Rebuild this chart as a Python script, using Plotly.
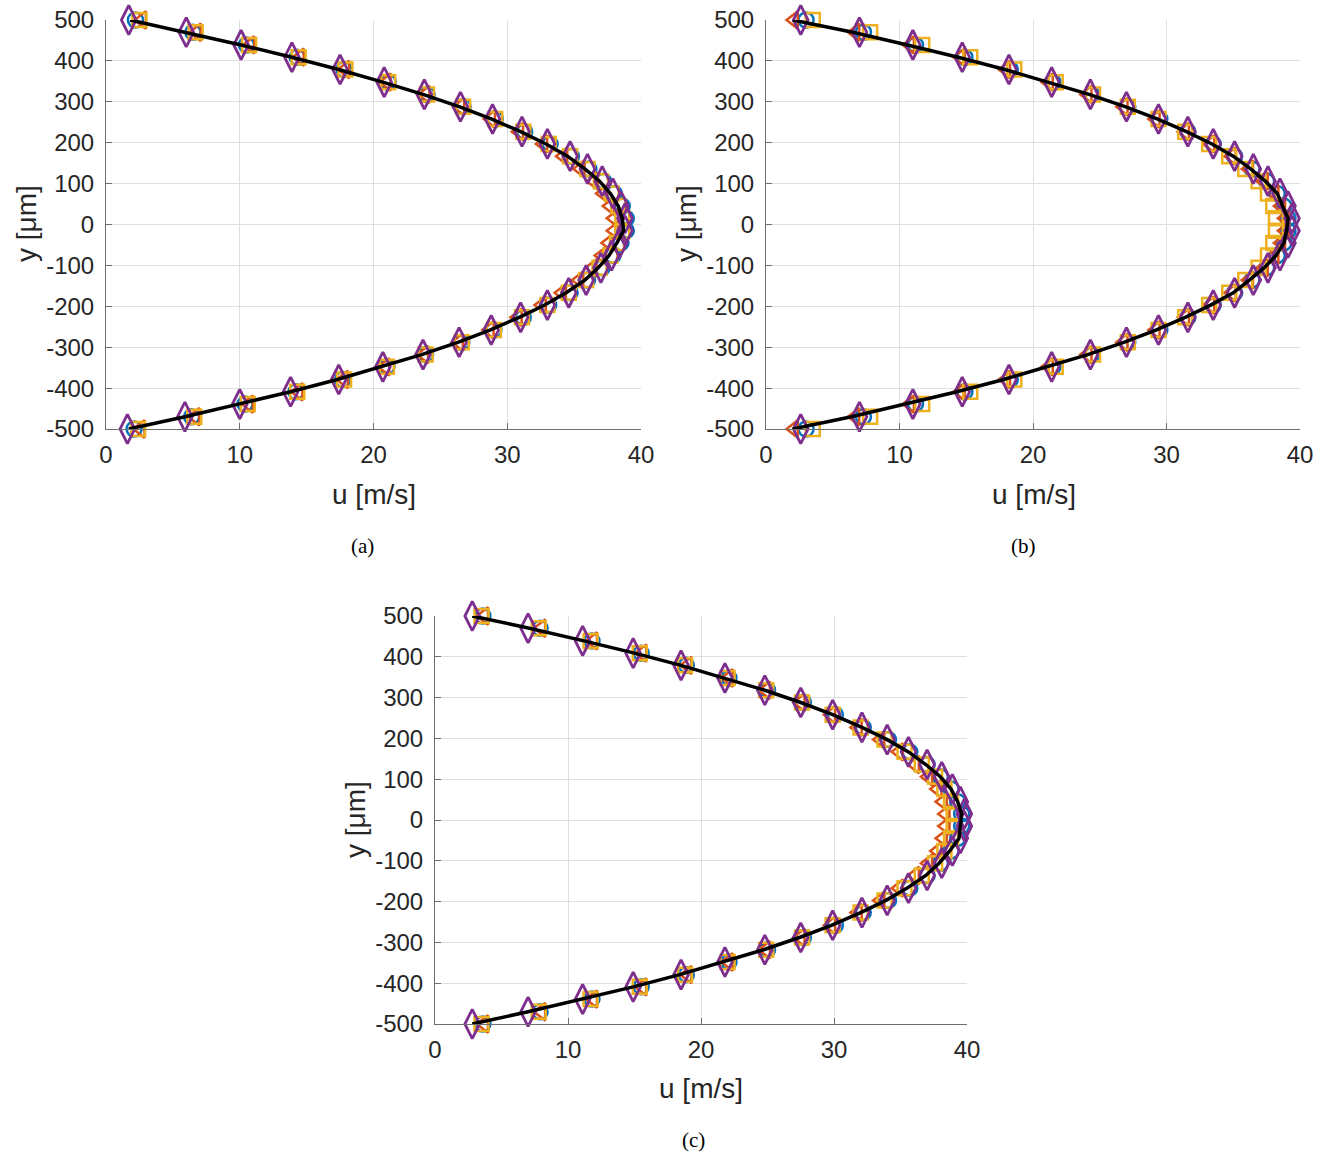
import plotly.graph_objects as go

# ---------------- data ----------------
y_pos = [500, 470, 439, 409, 379, 348, 318, 288, 258, 227, 197, 167, 136, 106, 76, 45, 15,
         -15, -45, -76, -106, -136, -167, -197, -227, -258, -288, -318, -348, -379, -409, -439, -470, -500]

# panel (a)
line_a = [1.8, 6.0, 10.1, 13.9, 17.4, 20.7, 23.7, 26.4, 28.8, 31.0, 32.9, 34.5, 35.8, 36.9, 37.7, 38.3, 38.6,
          38.7, 38.2, 37.6, 36.8, 35.8, 34.4, 32.8, 30.9, 28.7, 26.3, 23.6, 20.6, 17.3, 13.8, 10.0, 5.9, 1.7]
diam_a = [1.7, 6.0, 10.1, 13.9, 17.5, 20.8, 23.8, 26.5, 28.9, 31.1, 33.0, 34.7, 36.0, 37.1, 37.9, 38.5, 38.8,
          38.8, 38.4, 37.8, 37.0, 35.9, 34.6, 33.0, 31.0, 28.8, 26.4, 23.7, 20.7, 17.4, 13.8, 10.0, 5.9, 1.6]
circ_a = [2.2, 6.5, 10.5, 14.3, 17.8, 21.1, 24.0, 26.7, 29.1, 31.3, 33.2, 34.8, 36.1, 37.2, 38.0, 38.6, 38.9,
          38.9, 38.5, 37.9, 37.1, 36.0, 34.7, 33.1, 31.2, 29.0, 26.6, 23.9, 21.0, 17.7, 14.2, 10.4, 6.4, 2.1]
squa_a = [2.5, 6.7, 10.7, 14.4, 17.9, 21.1, 24.0, 26.7, 29.1, 31.2, 33.1, 34.7, 36.0, 37.0, 37.8, 38.3, 38.6,
          38.6, 38.2, 37.7, 36.9, 35.9, 34.6, 33.0, 31.1, 29.0, 26.6, 23.9, 21.0, 17.8, 14.3, 10.6, 6.6, 2.4]
tria_a = [2.7, 6.8, 10.8, 14.5, 17.9, 21.0, 23.9, 26.5, 28.8, 30.9, 32.7, 34.2, 35.5, 36.5, 37.2, 37.7, 38.0,
          38.0, 37.6, 37.1, 36.4, 35.4, 34.1, 32.6, 30.8, 28.7, 26.4, 23.8, 20.9, 17.8, 14.4, 10.7, 6.7, 2.6]

# panel (b)
line_b = [2.0, 6.5, 10.6, 14.4, 17.9, 21.2, 24.2, 26.9, 29.3, 31.5, 33.4, 35.0, 36.3, 37.4, 38.3, 38.7, 39.1,
          39.0, 38.8, 38.2, 37.3, 36.2, 35.0, 33.3, 31.4, 29.2, 26.8, 24.1, 21.1, 17.8, 14.3, 10.5, 6.4, 2.0]
diam_b = [2.6, 7.0, 11.0, 14.7, 18.2, 21.4, 24.3, 27.0, 29.4, 31.6, 33.5, 35.1, 36.5, 37.6, 38.5, 39.1, 39.4,
          39.4, 39.1, 38.5, 37.6, 36.5, 35.1, 33.5, 31.6, 29.4, 27.0, 24.3, 21.4, 18.2, 14.7, 11.0, 7.0, 2.6]
circ_b = [3.0, 7.3, 11.2, 14.9, 18.3, 21.5, 24.4, 27.1, 29.5, 31.6, 33.5, 35.1, 36.4, 37.5, 38.3, 38.8, 39.1,
          39.1, 38.8, 38.3, 37.5, 36.4, 35.1, 33.5, 31.6, 29.5, 27.1, 24.4, 21.5, 18.3, 14.9, 11.2, 7.3, 3.0]
squa_b = [3.5, 7.8, 11.7, 15.3, 18.6, 21.7, 24.5, 27.1, 29.4, 31.4, 33.2, 34.7, 35.9, 36.9, 37.6, 38.0, 38.2,
          38.2, 38.0, 37.6, 36.9, 35.9, 34.7, 33.2, 31.4, 29.4, 27.1, 24.5, 21.7, 18.6, 15.3, 11.7, 7.8, 3.5]
tria_b = [2.1, 6.7, 10.8, 14.6, 18.0, 21.2, 24.1, 26.8, 29.2, 31.4, 33.3, 34.9, 36.2, 37.3, 38.1, 38.6, 38.9,
          38.9, 38.6, 38.1, 37.3, 36.2, 34.9, 33.3, 31.4, 29.2, 26.8, 24.1, 21.2, 18.0, 14.6, 10.8, 6.7, 2.1]

# panel (c)
line_c = [2.8, 7.1, 11.2, 15.0, 18.5, 21.8, 24.8, 27.5, 29.9, 32.1, 34.0, 35.6, 36.9, 38.0, 38.8, 39.3, 39.6,
          39.5, 39.4, 38.7, 37.9, 36.9, 35.5, 33.9, 32.0, 29.8, 27.4, 24.7, 21.7, 18.4, 14.9, 11.1, 7.0, 2.8]
diam_c = [2.8, 7.0, 11.1, 14.9, 18.5, 21.8, 24.8, 27.5, 29.9, 32.1, 34.0, 35.6, 37.0, 38.1, 38.9, 39.5, 39.8,
          39.8, 39.5, 38.9, 38.1, 37.0, 35.6, 34.0, 32.1, 29.9, 27.5, 24.8, 21.8, 18.5, 14.9, 11.1, 7.0, 2.8]
circ_c = [3.6, 7.9, 11.8, 15.5, 18.9, 22.1, 25.0, 27.7, 30.1, 32.2, 34.1, 35.7, 37.0, 38.0, 38.8, 39.3, 39.6,
          39.6, 39.3, 38.8, 38.0, 37.0, 35.7, 34.1, 32.2, 30.1, 27.7, 25.0, 22.1, 18.9, 15.5, 11.8, 7.9, 3.6]
squa_c = [3.5, 7.8, 11.7, 15.4, 18.8, 22.0, 24.9, 27.6, 29.9, 32.0, 33.8, 35.3, 36.6, 37.6, 38.3, 38.8, 39.0,
          39.0, 38.8, 38.3, 37.6, 36.6, 35.3, 33.8, 32.0, 29.9, 27.6, 24.9, 22.0, 18.8, 15.4, 11.7, 7.8, 3.5]
tria_c = [3.7, 8.0, 11.9, 15.6, 19.0, 22.1, 24.9, 27.5, 29.8, 31.8, 33.5, 34.9, 36.1, 37.1, 37.8, 38.2, 38.4,
          38.4, 38.2, 37.8, 37.1, 36.1, 34.9, 33.5, 31.8, 29.8, 27.5, 24.9, 22.1, 19.0, 15.6, 11.9, 8.0, 3.7]

y_ticks = [-500, -400, -300, -200, -100, 0, 100, 200, 300, 400, 500]
y_tick_labels = ["-500", "-400", "-300", "-200", "-100", "0", "100", "200", "300", "400", "500"]
x_ticks = [0, 10, 20, 30, 40]
x_tick_labels = ["0", "10", "20", "30", "40"]
captions = ["(a)", "(b)", "(c)"]
x_title = "u [m/s]"
y_title = "y [μm]"

# ---------------- layout helpers ----------------
W, H = 1333, 1158
def fx(p):
    return p / W
def fy(p):
    return 1 - p / H

BLUE, ORANGE, YELLOW, PURPLE = "#0072BD", "#D95319", "#EDB120", "#7E2F8E"
panels = [
    dict(sets=(line_a, circ_a, tria_a, squa_a, diam_a), x0=106, x1=641, y0=20, y1=429,
         xt=(374, 494), yt=(27, 224), cap=(362, 546)),
    dict(sets=(line_b, circ_b, tria_b, squa_b, diam_b), x0=766, x1=1300, y0=20, y1=429,
         xt=(1034, 494), yt=(687, 224), cap=(1023, 546)),
    dict(sets=(line_c, circ_c, tria_c, squa_c, diam_c), x0=435, x1=967, y0=616, y1=1024,
         xt=(701, 1088), yt=(355, 820), cap=(694, 1140)),
]

fig = go.Figure()
annotations = []
tick_font = dict(family="Liberation Sans, Arial, sans-serif", size=24, color="#262626")
title_font = dict(family="Liberation Sans, Arial, sans-serif", size=28, color="#262626")
for i, p in enumerate(panels):
    sfx = "" if i == 0 else str(i + 1)
    xa, ya = "x" + sfx, "y" + sfx
    line, circ, tria, squa, diam = p["sets"]
    common = dict(y=y_pos, xaxis=xa, yaxis=ya, mode="markers", showlegend=False, cliponaxis=False)
    fig.add_trace(go.Scatter(x=circ, marker=dict(symbol="circle-open", size=15, color=BLUE,
                                                 line=dict(width=2.5, color=BLUE)), **common))
    fig.add_trace(go.Scatter(x=tria, marker=dict(symbol="triangle-left-open", size=15, color=ORANGE,
                                                 line=dict(width=2.5, color=ORANGE)), **common))
    fig.add_trace(go.Scatter(x=squa, marker=dict(symbol="square-open", size=14, color=YELLOW,
                                                 line=dict(width=2.5, color=YELLOW)), **common))
    fig.add_trace(go.Scatter(x=diam, marker=dict(symbol="diamond-tall-open", size=21, color=PURPLE,
                                                 line=dict(width=2.8, color=PURPLE)), **common))
    fig.add_trace(go.Scatter(x=line, y=y_pos, xaxis=xa, yaxis=ya, mode="lines", showlegend=False,
                             cliponaxis=False, line=dict(color="black", width=3.5)))

    axcommon = dict(showgrid=True, gridcolor="#dfdfdf", gridwidth=1, showline=True, linecolor="#6e6e6e",
                    linewidth=1, ticks="inside", ticklen=6, tickcolor="#6e6e6e", zeroline=False,
                    tickfont=tick_font, mirror=False, automargin=False, ticklabeloverflow="allow")
    fig.layout["xaxis" + sfx] = dict(domain=[fx(p["x0"]), fx(p["x1"])], range=[0, 40], anchor=ya,
                                     tickvals=x_ticks, ticktext=x_tick_labels, ticklabelstandoff=4, **axcommon)
    fig.layout["yaxis" + sfx] = dict(domain=[fy(p["y1"]), fy(p["y0"])], range=[-500, 500], anchor=xa,
                                     tickvals=y_ticks, ticktext=y_tick_labels, ticklabelstandoff=6, **axcommon)
    annotations.append(dict(text=x_title, x=fx(p["xt"][0]), y=fy(p["xt"][1]), xref="paper", yref="paper",
                            showarrow=False, xanchor="center", yanchor="middle", font=title_font))
    annotations.append(dict(text=y_title, x=fx(p["yt"][0]), y=fy(p["yt"][1]), xref="paper", yref="paper",
                            showarrow=False, xanchor="center", yanchor="middle", textangle=-90,
                            font=title_font))
    annotations.append(dict(text=captions[i], x=fx(p["cap"][0]), y=fy(p["cap"][1]), xref="paper", yref="paper",
                            showarrow=False, xanchor="center", yanchor="middle",
                            font=dict(family="Liberation Serif, Times New Roman, serif", size=21, color="black")))

fig.update_layout(width=W, height=H, margin=dict(l=0, r=0, t=0, b=0, pad=0, autoexpand=False),
                  paper_bgcolor="white", plot_bgcolor="white", annotations=annotations)
fig.write_html("out.html", config={"displayModeBar": False},
               post_script="document.body.style.margin='0px';")
